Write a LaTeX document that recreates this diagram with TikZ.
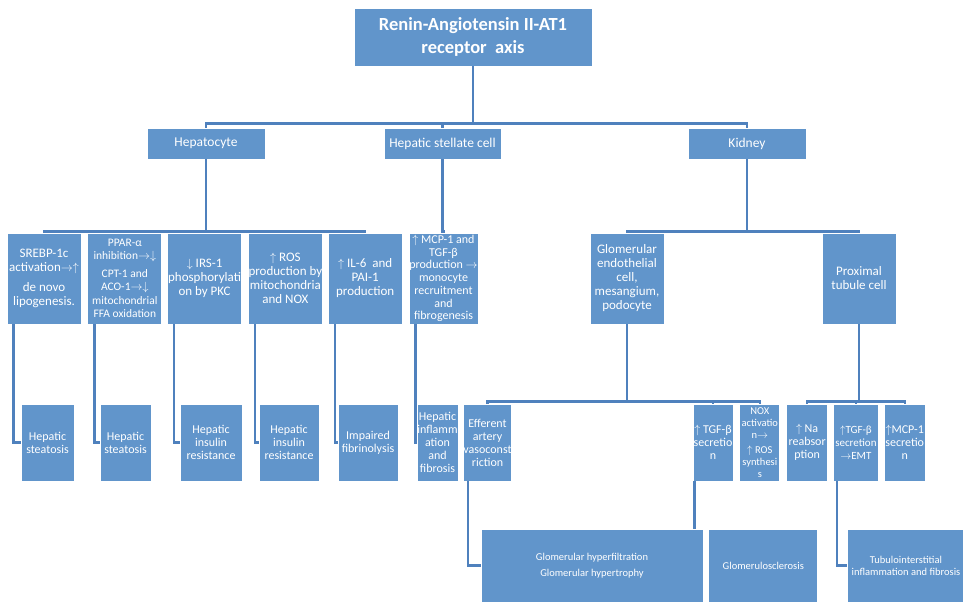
\documentclass[tikz,border=0pt]{standalone}
\usepackage{fontspec}
\setmainfont{Carlito}
\usetikzlibrary{positioning}
\definecolor{boxblue}{RGB}{97,149,203}
\definecolor{linkblue}{RGB}{79,129,189}
\tikzset{
boxbase/.style={draw=white, line width=0.8pt, fill=boxblue, text=white, align=center, inner xsep=0pt, inner ysep=1pt},
headbox/.style={boxbase, minimum width=238pt, minimum height=58pt, font=\bfseries\fontsize{18.5}{23}\selectfont},
organ/.style={boxbase, minimum width=118pt, minimum height=31pt, font=\fontsize{13.5}{15}\selectfont},
cellbox/.style={boxbase, minimum width=#1, minimum height=91pt, font=\fontsize{13}{14}\selectfont},
cellbox/.default=74pt,
effect/.style={boxbase, minimum width=#1, minimum height=77pt, font=\fontsize{12}{13}\selectfont},
effect/.default=41pt,
outcome/.style={boxbase, minimum width=#1, minimum height=73pt, font=\fontsize{10.5}{12}\selectfont},
linkline/.style={draw=linkblue, line width=2.4pt},
}
\newcommand{\uparr}{$\uparrow$}
\newcommand{\downarr}{$\downarrow$}
\newcommand{\rightarr}{$\rightarrow$}

\begin{document}
\begin{tikzpicture}[x=1pt, y=-1pt]
\useasboundingbox (0,0) rectangle (963,602);
% head and organs
\node[headbox] (axis) at (473,37) {Renin-Angiotensin II-AT1\\receptor\ \ axis};
\node[organ] (hep) at (206,143.5) {Hepatocyte};
\node[organ, minimum width=117pt] (hsc) at (442.5,143.5) {Hepatic stellate cell};
\node[organ] (kid) at (747,143.5) {Kidney};

% cell level
\node[cellbox] (srebp) at (44,278.5) {SREBP-1c\\activation\rightarr\uparr\\[6pt]de novo\\lipogenesis.};
\node[cellbox, right=6pt of srebp, font=\fontsize{11.5}{13.5}\selectfont] (ppar) {PPAR-α\\inhibition\rightarr\downarr\\[4pt]CPT-1 and\\ACO-1\rightarr\downarr\\mitochondrial\\FFA oxidation};
\node[cellbox, right=5pt of ppar] (irs) {\downarr\ IRS-1\\phosphorylati\\on by PKC};
\node[cellbox, right=6pt of irs] (ros) {\uparr\ ROS\\production by\\mitochondria\\and NOX};
\node[cellbox, right=5pt of ros] (il6) {\uparr\ IL-6\ \ and\\PAI-1\\production};
\node[cellbox=69pt, right=6pt of il6, font=\fontsize{12}{12.7}\selectfont] (mcp) {\uparr\ MCP-1 and\\TGF-β\\production \rightarr\\monocyte\\recruitment\\and\\fibrogenesis};
\node[cellbox] (glom) at (627,278.5) {Glomerular\\endothelial\\cell,\\mesangium,\\podocyte};
\node[cellbox] (prox) at (859,278.5) {Proximal\\tubule cell};

% effects
\node[effect=53pt] (st1) at (47.5,442.5) {Hepatic\\steatosis};
\node[effect=51pt] (st2) at (125.5,442.5) {Hepatic\\steatosis};
\node[effect=62pt] (ir1) at (211,442.5) {Hepatic\\insulin\\resistance};
\node[effect=60pt] (ir2) at (289,442.5) {Hepatic\\insulin\\resistance};
\node[effect=60pt] (fib) at (368,442.5) {Impaired\\fibrinolysis};
\node[effect] (infl) at (437.5,442.5) {Hepatic\\inflamm\\ation\\and\\fibrosis};
\node[effect=47pt] (eff) at (487.5,442.5) {Efferent\\artery\\vasoconst\\riction};
\node[effect=40pt] (tgf) at (713,442.5) {\uparr\ TGF-β\\secretio\\n};
\node[effect=40pt, right=6pt of tgf, font=\fontsize{10.5}{12}\selectfont] (nox) {NOX\\activatio\\n\rightarr\\[3pt]\uparr\ ROS\\synthesi\\s};
\node[effect, right=6pt of nox] (na) {\uparr\ Na\\reabsor\\ption};
\node[effect=45pt, right=5pt of na, font=\fontsize{11}{13}\selectfont] (emt) {\uparr TGF-β\\secretion\\\rightarr EMT};
\node[effect, right=5pt of emt] (mcps) {\uparr MCP-1\\secretio\\n};

% outcomes
\node[outcome=222pt] (hyper) at (592,565.5) {Glomerular hyperfiltration\\[4pt]Glomerular hypertrophy};
\node[outcome=109pt, right=5pt of hyper] (sclero) {Glomerulosclerosis};
\node[outcome=118pt] (tubu) at (906,565.5) {Tubulointerstitial\\inflammation and fibrosis};

% tree links
\foreach \c in {hep,hsc,kid} \draw[linkline] (axis.south) -- ++(0,57) -| (\c.north);
\foreach \c in {srebp,ppar,irs,ros,il6} \draw[linkline] (hep.south) -- ++(0,72) -| (\c.north);
\draw[linkline] (hsc.south) -- ++(0,72) -| (mcp.north);
\foreach \c in {glom,prox} \draw[linkline] (kid.south) -- ++(0,72) -| (\c.north);
\foreach \c in {eff,tgf,nox} \draw[linkline] (glom.south) -- ++(0,77) -| (\c.north);
\foreach \c in {na,emt,mcps} \draw[linkline] (prox.south) -- ++(0,77) -| (\c.north);

% hanging links
\foreach \p/\c in {srebp/st1, ppar/st2, irs/ir1, ros/ir2, il6/fib, mcp/infl}
  \draw[linkline] ([xshift=7pt]\p.south west) |- (\c.west);
\draw[linkline] ([xshift=5pt]eff.south west) |- (hyper.west);
\draw[linkline] ([xshift=4pt]emt.south west) |- (tubu.west);
\draw[linkline] ([xshift=2pt]tgf.south west) -- ([xshift=2pt]tgf.south west |- hyper.north);
\end{tikzpicture}
\end{document}
